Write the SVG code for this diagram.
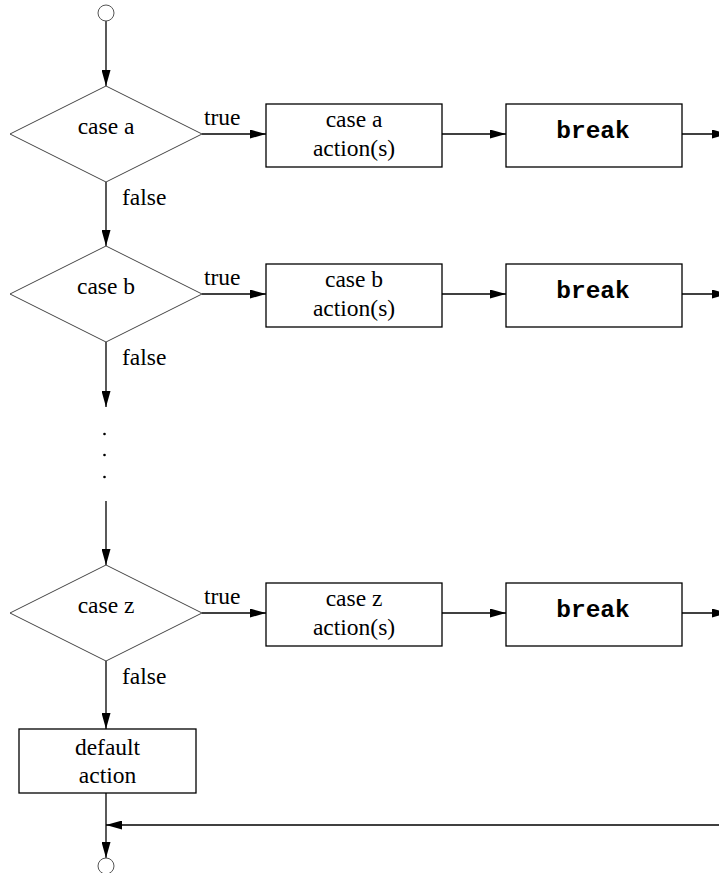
<svg xmlns="http://www.w3.org/2000/svg" width="719" height="873" viewBox="0 0 719 873">
  <style>
    .dia { fill: #fff; stroke: #444; stroke-width: 1; }
    .box { fill: #fff; stroke: #000; stroke-width: 1.3; }
    .term { fill: #fff; stroke: #555; stroke-width: 1; }
    .lbl { font-family: "Liberation Serif", "Times New Roman", serif; font-size: 23.5px; fill: #000; }
    .mid { text-anchor: middle; }
    .code { font-family: "Liberation Mono", "Courier New", monospace; font-size: 24.5px; font-weight: bold; fill: #000; text-anchor: middle; }
    .wire { fill: none; stroke: #000; stroke-width: 1.3; }
  </style>
  <defs>
    <marker id="ah" markerUnits="userSpaceOnUse" markerWidth="16" markerHeight="9" refX="16" refY="4.5" orient="auto">
      <path d="M0,0 L16,4.5 L0,9 Z" fill="#000"/>
    </marker>
  </defs>

  <rect width="719" height="873" fill="#fff"/>

  <!-- connectors -->
  <g id="connectors">
    <line class="wire" x1="106" y1="21" x2="106" y2="86" marker-end="url(#ah)"/>
    <line class="wire" x1="106" y1="182" x2="106" y2="246" marker-end="url(#ah)"/>
    <line class="wire" x1="106" y1="342" x2="106" y2="407" marker-end="url(#ah)"/>
    <line class="wire" x1="106" y1="501" x2="106" y2="565" marker-end="url(#ah)"/>
    <line class="wire" x1="106" y1="661" x2="106" y2="729" marker-end="url(#ah)"/>
    <line class="wire" x1="106" y1="793" x2="106" y2="858" marker-end="url(#ah)"/>
    <line class="wire" x1="725" y1="825" x2="106" y2="825" marker-end="url(#ah)"/>

    <!-- row a -->
    <line class="wire" x1="202" y1="134" x2="266" y2="134" marker-end="url(#ah)"/>
    <line class="wire" x1="442" y1="134" x2="506" y2="134" marker-end="url(#ah)"/>
    <line class="wire" x1="682" y1="134" x2="728" y2="134" marker-end="url(#ah)"/>
    <!-- row b -->
    <line class="wire" x1="202" y1="294" x2="266" y2="294" marker-end="url(#ah)"/>
    <line class="wire" x1="442" y1="294" x2="506" y2="294" marker-end="url(#ah)"/>
    <line class="wire" x1="682" y1="294" x2="728" y2="294" marker-end="url(#ah)"/>
    <!-- row z -->
    <line class="wire" x1="202" y1="613" x2="266" y2="613" marker-end="url(#ah)"/>
    <line class="wire" x1="442" y1="613" x2="506" y2="613" marker-end="url(#ah)"/>
    <line class="wire" x1="682" y1="613" x2="728" y2="613" marker-end="url(#ah)"/>

    <text class="lbl" x="204" y="125">true</text>
    <text class="lbl" x="204" y="285">true</text>
    <text class="lbl" x="204" y="604">true</text>
    <text class="lbl" x="122" y="205">false</text>
    <text class="lbl" x="122" y="365">false</text>
    <text class="lbl" x="122" y="684">false</text>

    <!-- ellipsis between case b and case z -->
    <circle cx="104.5" cy="434" r="1.3" fill="#000"/>
    <circle cx="104.5" cy="455" r="1.3" fill="#000"/>
    <circle cx="104.5" cy="477" r="1.3" fill="#000"/>
  </g>

  <!-- start / end terminals -->
  <g id="start">
    <circle class="term" cx="106" cy="13" r="8"/>
  </g>
  <g id="end">
    <circle class="term" cx="106" cy="866" r="8"/>
  </g>

  <!-- decisions -->
  <g id="case-a">
    <polygon class="dia" points="106,86 202,134 106,182 10,134"/>
    <text class="lbl mid" x="106" y="134">case a</text>
  </g>
  <g id="case-b">
    <polygon class="dia" points="106,246 202,294 106,342 10,294"/>
    <text class="lbl mid" x="106" y="294">case b</text>
  </g>
  <g id="case-z">
    <polygon class="dia" points="106,565 202,613 106,661 10,613"/>
    <text class="lbl mid" x="106" y="613">case z</text>
  </g>

  <!-- actions -->
  <g id="action-a">
    <rect class="box" x="266" y="104" width="176" height="63"/>
    <text class="lbl mid" x="354" y="127">case a</text>
    <text class="lbl mid" x="354" y="156">action(s)</text>
  </g>
  <g id="action-b">
    <rect class="box" x="266" y="264" width="176" height="63"/>
    <text class="lbl mid" x="354" y="287">case b</text>
    <text class="lbl mid" x="354" y="316">action(s)</text>
  </g>
  <g id="action-z">
    <rect class="box" x="266" y="583" width="176" height="63"/>
    <text class="lbl mid" x="354" y="606">case z</text>
    <text class="lbl mid" x="354" y="635">action(s)</text>
  </g>

  <!-- breaks -->
  <g id="break-a">
    <rect class="box" x="506" y="104" width="176" height="63"/>
    <text class="code" x="593" y="138">break</text>
  </g>
  <g id="break-b">
    <rect class="box" x="506" y="264" width="176" height="63"/>
    <text class="code" x="593" y="298">break</text>
  </g>
  <g id="break-z">
    <rect class="box" x="506" y="583" width="176" height="63"/>
    <text class="code" x="593" y="617">break</text>
  </g>

  <!-- default -->
  <g id="default-action">
    <rect class="box" x="19" y="729" width="177" height="64"/>
    <text class="lbl mid" x="107.5" y="755">default</text>
    <text class="lbl mid" x="107.5" y="783">action</text>
  </g>
</svg>
